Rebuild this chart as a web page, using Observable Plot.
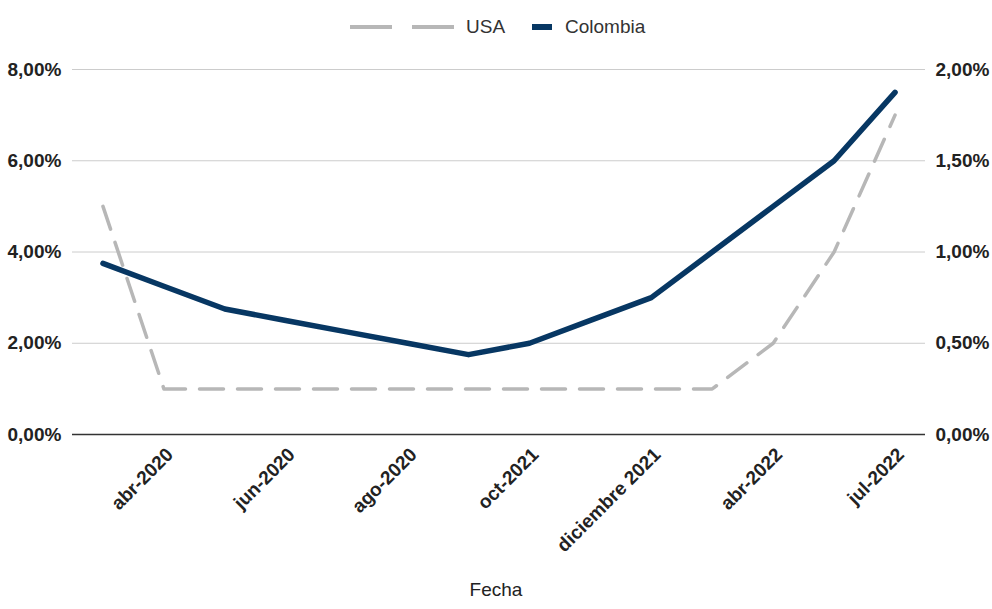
<!DOCTYPE html>
<html>
<head>
<meta charset="utf-8">
<script src="https://cdn.jsdelivr.net/npm/d3@7"></script>
<script src="https://cdn.jsdelivr.net/npm/@observablehq/plot@0.6"></script>
<style>
  html, body { margin: 0; padding: 0; background: #fff; }
  #wrap { position: relative; width: 992px; height: 609px; font-family: "Liberation Sans", Arial, sans-serif; }
  #legend { position: relative; height: 54px; }
  .lg { position: absolute; top: 0; height: 54px; display: flex; align-items: center; font-size: 19px; color: #333; }
  #fecha { height: 35px; line-height: 32px; text-align: center; font-size: 19px; color: #222; }
</style>
</head>
<body>
<div id="wrap">
  <div id="legend"></div>
  <div id="chart"></div>
  <div id="fecha">Fecha</div>
</div>
<script>
const categories = ["mar-2020", "abr-2020", "may-2020", "jun-2020", "jul-2020", "ago-2020", "sep-2021",
  "oct-2021", "noviembre 2021", "diciembre 2021", "ene-2022", "abr-2022", "jun-2022", "jul-2022"];
const shownLabels = ["abr-2020", "jun-2020", "ago-2020", "oct-2021", "diciembre 2021", "abr-2022", "jul-2022"];
const colombia = [3.75, 3.25, 2.75, 2.5, 2.25, 2.0, 1.75, 2.0, 2.5, 3.0, 4.0, 5.0, 6.0, 7.5];
const usa = [1.25, 0.25, 0.25, 0.25, 0.25, 0.25, 0.25, 0.25, 0.25, 0.25, 0.25, 0.5, 1.0, 1.75];
const leftTicks = [0, 2, 4, 6, 8];
const rightTicks = [0, 0.5, 1, 1.5, 2];
const seriesNames = ["USA", "Colombia"];
const colors = { USA: "#b7b7b7", Colombia: "#073763" };

const ratio = leftTicks[leftTicks.length - 1] / rightTicks[rightTicks.length - 1];
const fmt = v => v.toFixed(2).replace(".", ",") + "%";

const data = categories.map((c, i) => ({ cat: c, colombia: colombia[i], usa: usa[i] }));

// legend
const legend = document.getElementById("legend");
legend.innerHTML = `
  <div class="lg" style="left:350px">
    <svg width="104" height="6"><line x1="0" y1="3" x2="104" y2="3" stroke="${colors.USA}" stroke-width="4" stroke-dasharray="42,20"/></svg>
    <span style="margin-left:12px">${seriesNames[0]}</span>
  </div>
  <div class="lg" style="left:532px">
    <svg width="20" height="8"><rect x="0" y="1" width="20" height="6" fill="${colors.Colombia}"/></svg>
    <span style="margin-left:13px">${seriesNames[1]}</span>
  </div>`;

const chart = Plot.plot({
  width: 992,
  height: 520,
  marginTop: 15,
  marginLeft: 72,
  marginRight: 67,
  marginBottom: 140,
  style: { fontFamily: "'Liberation Sans', Arial, sans-serif", fontSize: "19px", fontWeight: "bold", color: "#222", background: "#fff" },
  x: { type: "point", domain: categories, padding: 0.5, round: false },
  y: { domain: [0, 8] },
  marks: [
    Plot.ruleY(leftTicks.filter(d => d > 0), { stroke: "#cccccc", strokeWidth: 1 }),
    Plot.ruleY([0], { stroke: "#333", strokeWidth: 1.5 }),
    Plot.axisY({ anchor: "left", ticks: leftTicks, tickSize: 0, tickPadding: 0, textAnchor: "start", dx: -65, tickFormat: fmt, label: null }),
    Plot.axisY({ anchor: "right", ticks: rightTicks.map(v => v * ratio), tickSize: 0, tickPadding: 10, textAnchor: "start", tickFormat: d => fmt(d / ratio), label: null }),
    Plot.axisX({ ticks: shownLabels, tickSize: 0, tickRotate: -45, tickPadding: 17, dx: 6, label: null }),
    Plot.line(data, { x: "cat", y: d => d.usa * ratio, stroke: colors.USA, strokeWidth: 3.5, strokeDasharray: "24,14" }),
    Plot.line(data, { x: "cat", y: "colombia", stroke: colors.Colombia, strokeWidth: 5.5 })
  ]
});
document.getElementById("chart").appendChild(chart);
</script>
</body>
</html>
